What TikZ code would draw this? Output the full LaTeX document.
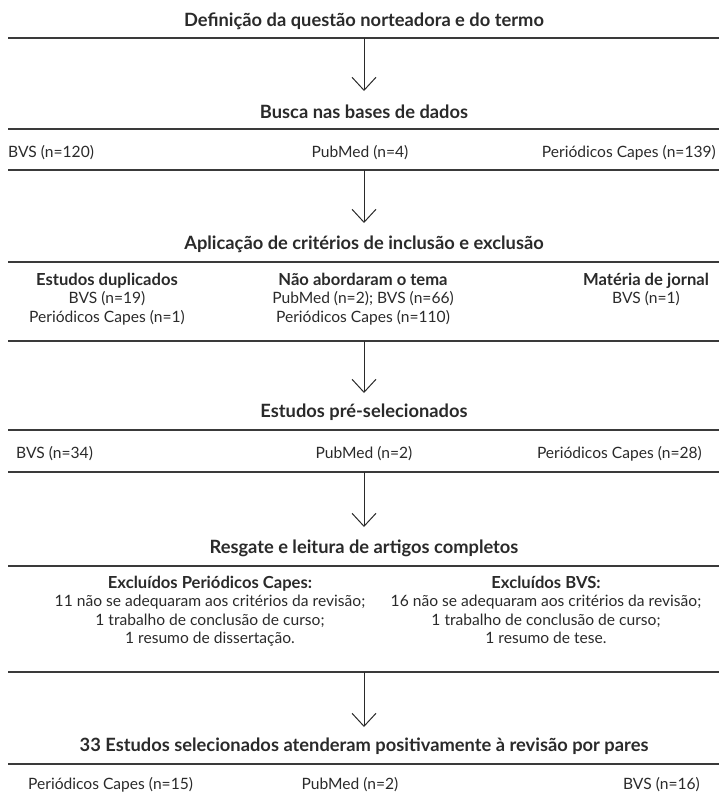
\documentclass[tikz,border=0pt]{standalone}
\usepackage{fontspec}
\setmainfont{Lato}
\usetikzlibrary{arrows.meta}
\definecolor{ink}{HTML}{2A2A2A}
\definecolor{rulec}{HTML}{3A3A3A}
\tikzset{
  hd/.style={font=\bfseries\fontsize{18.3}{21}\selectfont, text=ink, inner sep=0pt},
  tx/.style={font=\fontsize{15.6}{18.4}\selectfont, text=ink, inner sep=0pt, align=center},
  rulel/.style={line width=1.8pt, draw=rulec},
  arr/.style={line width=1pt, draw=ink, -{Straight Barb[length=13pt,width=24pt,line width=1pt]}},
}
\newcommand{\colhd}[1]{{\bfseries\fontsize{16.6}{18.4}\selectfont #1}}
\begin{document}
\begin{tikzpicture}[x=1pt,y=-1pt]
\useasboundingbox (0,0) rectangle (719,798);
% section 1
\node[hd] (t1) at (364,21) {Definição da questão norteadora e do termo};
\coordinate (l1a) at (8,38); \coordinate (l1b) at (719,38);
\draw[rulel] (l1a) -- (l1b);
\coordinate (a1s) at (364,38); \coordinate (a1e) at (364,91);
\draw[arr] (a1s) -- (a1e);
% section 2
\node[hd] (t2) at (364,112) {Busca nas bases de dados};
\coordinate (l2a) at (8,129); \coordinate (l2b) at (719,129);
\draw[rulel] (l2a) -- (l2b);
\node[tx, anchor=west] (r1a) at (8,153) {BVS (n=120)};
\node[tx] (r1b) at (360,153) {PubMed (n=4)};
\node[tx, anchor=east] (r1c) at (716,153) {Periódicos Capes (n=139)};
\coordinate (l3a) at (8,170); \coordinate (l3b) at (719,170);
\draw[rulel] (l3a) -- (l3b);
\coordinate (a2s) at (364,170); \coordinate (a2e) at (364,223);
\draw[arr] (a2s) -- (a2e);
% section 3
\node[hd] (t3) at (364,244) {Aplicação de critérios de inclusão e exclusão};
\coordinate (l4a) at (8,262); \coordinate (l4b) at (719,262);
\draw[rulel] (l4a) -- (l4b);
\node[tx, anchor=north] (c1) at (107,273) {\colhd{Estudos duplicados}\\BVS (n=19)\\Periódicos Capes (n=1)};
\node[tx, anchor=north] (c2) at (363,273) {\colhd{Não abordaram o tema}\\PubMed (n=2); BVS (n=66)\\Periódicos Capes (n=110)};
\node[tx, anchor=north] (c3) at (646,273) {\colhd{Matéria de jornal}\\BVS (n=1)};
\coordinate (l5a) at (8,341); \coordinate (l5b) at (719,341);
\draw[rulel] (l5a) -- (l5b);
\coordinate (a3s) at (364,341); \coordinate (a3e) at (364,393);
\draw[arr] (a3s) -- (a3e);
% section 4
\node[hd] (t4) at (364,412) {Estudos pré-selecionados};
\coordinate (l6a) at (8,430); \coordinate (l6b) at (719,430);
\draw[rulel] (l6a) -- (l6b);
\node[tx, anchor=west] (r2a) at (16,454) {BVS (n=34)};
\node[tx] (r2b) at (364,454) {PubMed (n=2)};
\node[tx, anchor=east] (r2c) at (702,454) {Periódicos Capes (n=28)};
\coordinate (l7a) at (8,472); \coordinate (l7b) at (719,472);
\draw[rulel] (l7a) -- (l7b);
\coordinate (a4s) at (364,472); \coordinate (a4e) at (364,527);
\draw[arr] (a4s) -- (a4e);
% section 5
\node[hd] (t5) at (364,548) {Resgate e leitura de artigos completos};
\coordinate (l8a) at (8,566); \coordinate (l8b) at (719,566);
\draw[rulel] (l8a) -- (l8b);
\node[tx, anchor=north] (e1) at (210,576) {\colhd{Excluídos Periódicos Capes:}\\11 não se adequaram aos critérios da revisão;\\1 trabalho de conclusão de curso;\\1 resumo de dissertação.};
\node[tx, anchor=north] (e2) at (546,576) {\colhd{Excluídos BVS:}\\16 não se adequaram aos critérios da revisão;\\1 trabalho de conclusão de curso;\\1 resumo de tese.};
\coordinate (l9a) at (8,672); \coordinate (l9b) at (719,672);
\draw[rulel] (l9a) -- (l9b);
\coordinate (a5s) at (364,672); \coordinate (a5e) at (364,727);
\draw[arr] (a5s) -- (a5e);
% section 6
\node[hd] (t6) at (364,746) {33 Estudos selecionados atenderam positivamente à revisão por pares};
\coordinate (l10a) at (8,764); \coordinate (l10b) at (719,764);
\draw[rulel] (l10a) -- (l10b);
\node[tx, anchor=west] (r3a) at (28,785) {Periódicos Capes (n=15)};
\node[tx] (r3b) at (350,785) {PubMed (n=2)};
\node[tx, anchor=east] (r3c) at (700,785) {BVS (n=16)};
\end{tikzpicture}
\end{document}
